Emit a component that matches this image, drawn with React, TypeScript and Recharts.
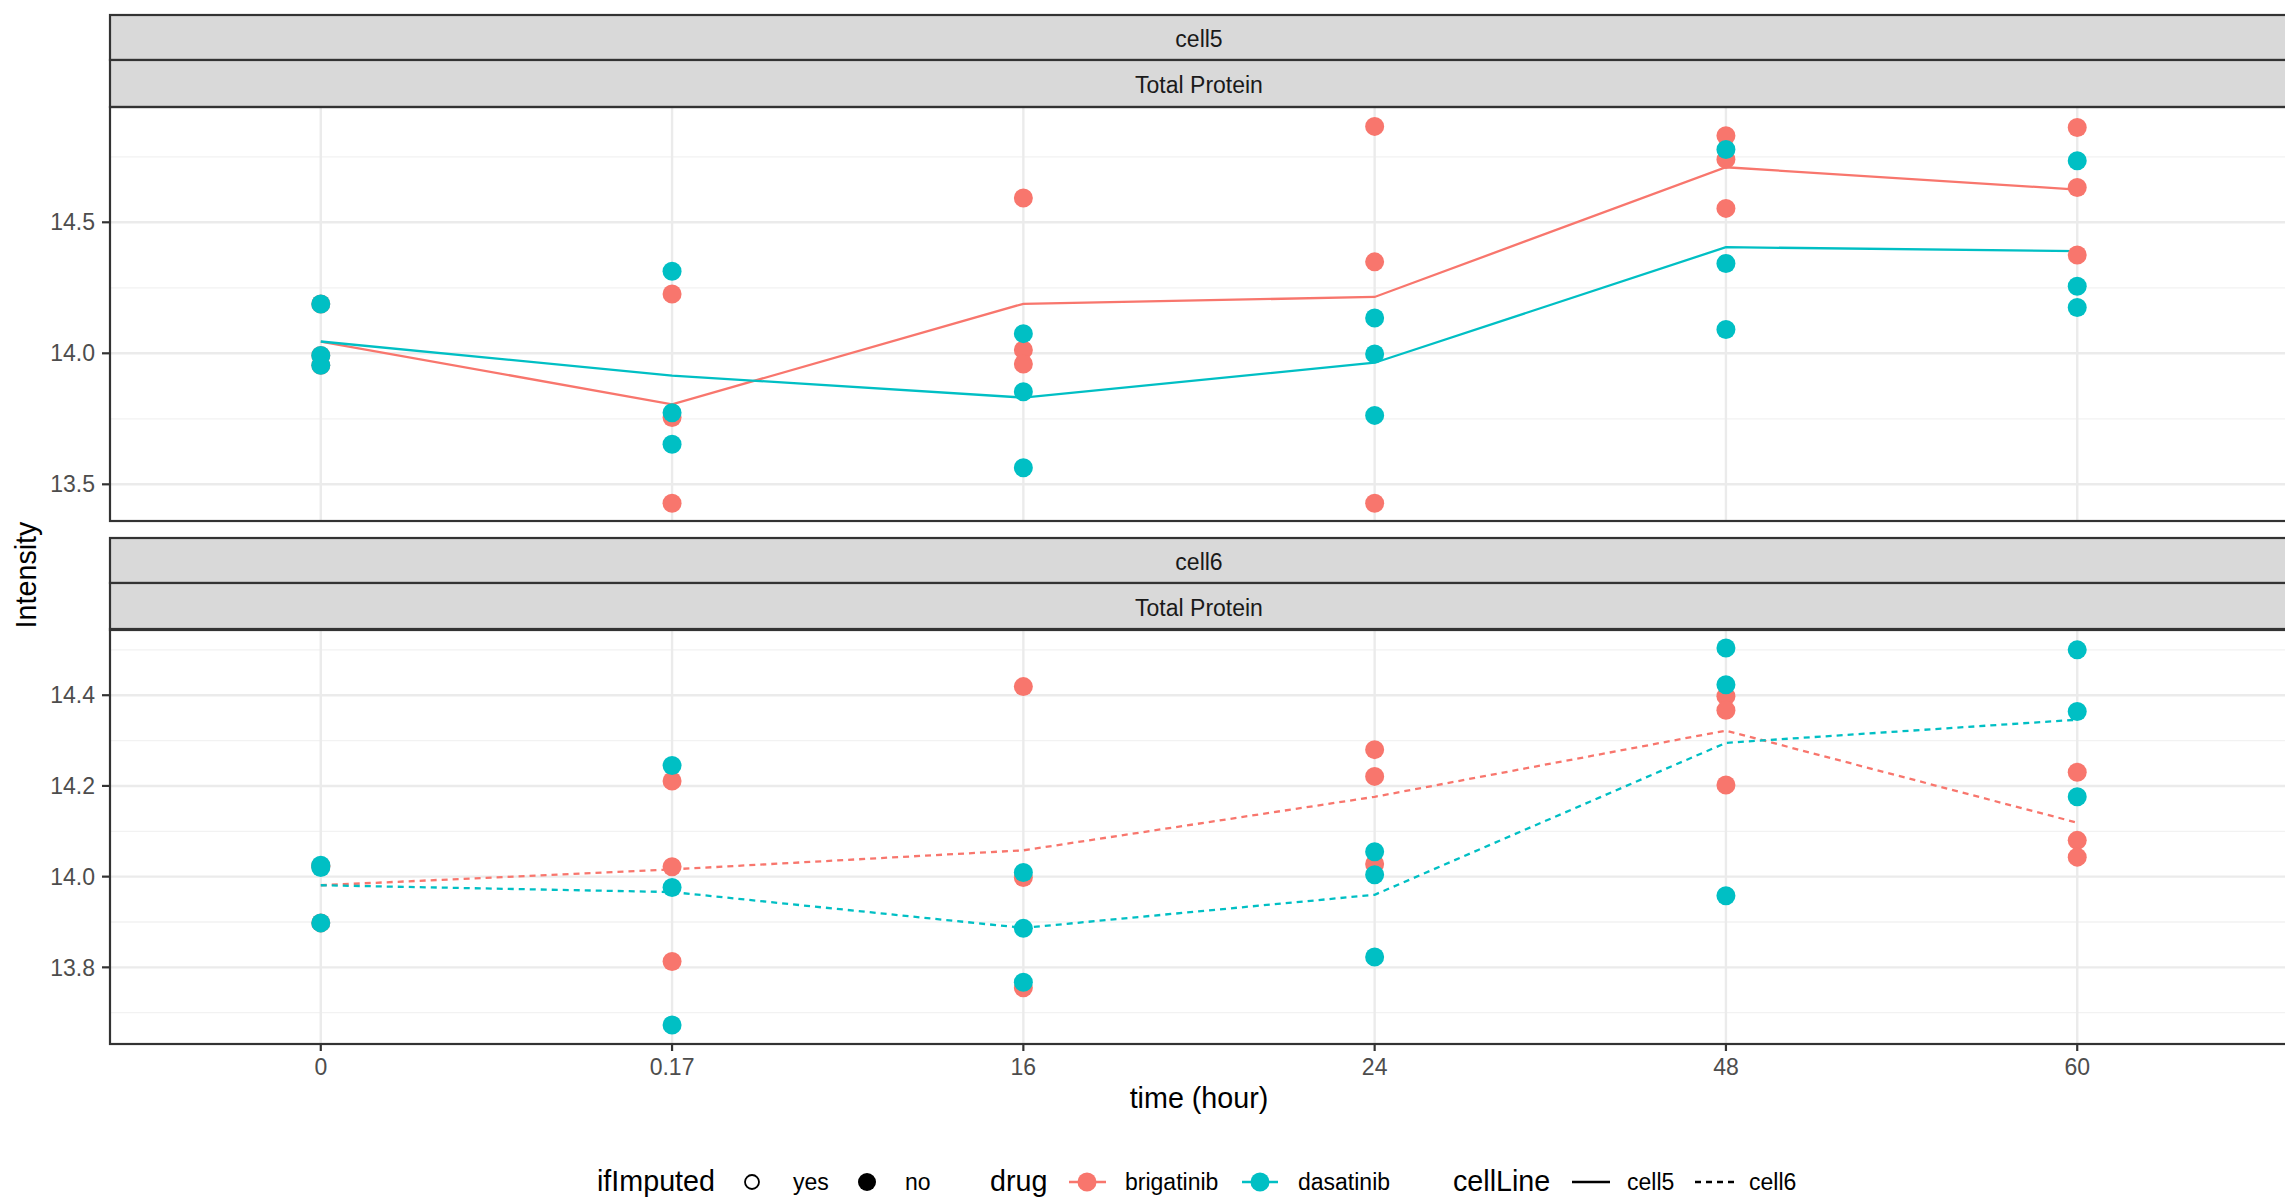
import React from 'react';
import { ComposedChart, Scatter, Line, XAxis, YAxis, CartesianGrid } from 'recharts';

const FONT = '"Liberation Sans", Arial, Helvetica, sans-serif';
const RED = '#F8766D';
const TEAL = '#00BFC4';

const timeLabels = ['0', '0.17', '16', '24', '48', '60'];
const timeIndex = [0, 1, 2, 3, 4, 5];

// cell5, three replicates per time point
const cell5Brigatinib = [
  [14.188, 13.992, 13.954],
  [14.226, 13.755, 13.428],
  [14.593, 14.013, 13.959],
  [14.866, 14.349, 13.428],
  [14.83, 14.74, 14.553],
  [14.862, 14.633, 14.375],
];
const cell5Dasatinib = [
  [14.188, 13.992, 13.954],
  [14.313, 13.773, 13.653],
  [14.075, 13.853, 13.563],
  [14.135, 13.997, 13.763],
  [14.778, 14.343, 14.091],
  [14.735, 14.256, 14.175],
];
const cell5BrigatinibLine = [14.045, 13.805, 14.189, 14.215, 14.71, 14.625];
const cell5DasatinibLine = [14.045, 13.915, 13.831, 13.964, 14.405, 14.39];

// cell6
const cell6Brigatinib = [
  [14.023, 14.023, 13.898],
  [14.211, 14.022, 13.813],
  [14.419, 13.998, 13.755],
  [14.28, 14.221, 14.028],
  [14.398, 14.367, 14.202],
  [14.23, 14.08, 14.043],
];
const cell6Dasatinib = [
  [14.025, 14.02, 13.898],
  [14.245, 13.976, 13.673],
  [14.009, 13.886, 13.767],
  [14.055, 14.004, 13.823],
  [14.504, 14.423, 13.958],
  [14.5, 14.364, 14.176],
];
const cell6BrigatinibLine = [13.981, 14.016, 14.058, 14.176, 14.322, 14.119];
const cell6DasatinibLine = [13.981, 13.966, 13.887, 13.96, 14.295, 14.346];

const cell5Ticks = [13.5, 14.0, 14.5];
const cell5Minor = [13.75, 14.25, 14.75];
const cell6Ticks = [13.8, 14.0, 14.2, 14.4];
const cell6Minor = [13.7, 13.9, 14.1, 14.3, 14.5];

const toPoints = (vals: number[][]) => vals.flatMap((arr, i) => arr.map((y) => ({ x: i, y })));
const toLine = (vals: number[]) => vals.map((y, i) => ({ x: i, y }));

const dot = (color: string) => (p: any) => <circle cx={p.cx} cy={p.cy} r={9.5} fill={color} />;

interface PanelProps {
  domain: [number, number];
  ticks: number[];
  minor: number[];
  brig: number[][];
  dasa: number[][];
  brigLine: number[];
  dasaLine: number[];
  dash?: string;
  height: number;
  showX: boolean;
}

const Panel: React.FC<PanelProps> = ({ domain, ticks, minor, brig, dasa, brigLine, dasaLine, dash, height, showX }) => (
  <ComposedChart width={2288} height={height + (showX ? 60 : 0)} margin={{ top: 0, right: 0, bottom: 0, left: 0 }}>
    <CartesianGrid stroke="#F2F2F2" strokeWidth={1.3} horizontalValues={minor} vertical={false} />
    <CartesianGrid stroke="#EBEBEB" strokeWidth={2.4} horizontalValues={ticks} verticalValues={timeIndex} />
    <XAxis
      type="number"
      dataKey="x"
      domain={[-0.6, 5.6]}
      ticks={timeIndex}
      tickFormatter={(v: number) => timeLabels[v]}
      hide={!showX}
      height={60}
      axisLine={false}
      tickSize={7}
      tickMargin={8}
      tickLine={{ stroke: '#333333', strokeWidth: 2.2 }}
      tick={{ fill: '#4D4D4D', fontSize: 23, fontFamily: FONT }}
      allowDataOverflow
    />
    <YAxis
      type="number"
      dataKey="y"
      domain={domain}
      ticks={ticks}
      tickFormatter={(v: number) => v.toFixed(1)}
      width={110}
      axisLine={false}
      tickSize={8}
      tickMargin={7}
      tickLine={{ stroke: '#333333', strokeWidth: 2.2 }}
      tick={{ fill: '#4D4D4D', fontSize: 23, fontFamily: FONT }}
      allowDataOverflow
    />
    <Scatter data={toPoints(brig)} fill={RED} shape={dot(RED)} isAnimationActive={false} />
    <Scatter data={toPoints(dasa)} fill={TEAL} shape={dot(TEAL)} isAnimationActive={false} />
    <Line data={toLine(brigLine)} dataKey="y" type="linear" stroke={RED} strokeWidth={2.3} strokeDasharray={dash} dot={false} activeDot={false} isAnimationActive={false} />
    <Line data={toLine(dasaLine)} dataKey="y" type="linear" stroke={TEAL} strokeWidth={2.3} strokeDasharray={dash} dot={false} activeDot={false} isAnimationActive={false} />
  </ComposedChart>
);

const Strips: React.FC<{ top: number; label: string }> = ({ top, label }) => (
  <g>
    <rect x={110} y={top} width={2200} height={45} fill="#D9D9D9" stroke="#333333" strokeWidth={2.2} />
    <rect x={110} y={top + 45} width={2200} height={47} fill="#D9D9D9" stroke="#333333" strokeWidth={2.2} />
    <text x={1199} y={top + 31.7} textAnchor="middle" fontSize={23} fill="#1A1A1A" fontFamily={FONT}>{label}</text>
    <text x={1199} y={top + 77.7} textAnchor="middle" fontSize={23} fill="#1A1A1A" fontFamily={FONT}>Total Protein</text>
  </g>
);

const App: React.FC = () => (
  <div style={{ position: 'absolute', left: 0, top: 0, width: 2285, height: 1204, overflow: 'hidden', background: '#fff' }}>
    <div style={{ position: 'absolute', left: 0, top: 107 }}>
      <Panel domain={[13.36, 14.94]} ticks={cell5Ticks} minor={cell5Minor} brig={cell5Brigatinib} dasa={cell5Dasatinib}
        brigLine={cell5BrigatinibLine} dasaLine={cell5DasatinibLine} height={414} showX={false} />
    </div>
    <div style={{ position: 'absolute', left: 0, top: 629 }}>
      <Panel domain={[13.631, 14.546]} ticks={cell6Ticks} minor={cell6Minor} brig={cell6Brigatinib} dasa={cell6Dasatinib}
        brigLine={cell6BrigatinibLine} dasaLine={cell6DasatinibLine} dash="6 5" height={415} showX />
    </div>
    <svg width={2285} height={1204} style={{ position: 'absolute', left: 0, top: 0, pointerEvents: 'none' }} fontFamily={FONT}>
      <Strips top={15} label="cell5" />
      <Strips top={538} label="cell6" />
      <rect x={110} y={107} width={2200} height={414} fill="none" stroke="#333333" strokeWidth={2.2} />
      <rect x={110} y={629} width={2200} height={415} fill="none" stroke="#333333" strokeWidth={2.2} />
      <text transform="translate(36,575) rotate(-90)" textAnchor="middle" fontSize={28.7} fill="#000">Intensity</text>
      <text x={1199} y={1108} textAnchor="middle" fontSize={28.7} fill="#000">time (hour)</text>
      {/* legend */}
      <g fill="#000">
        <text x={597} y={1191} fontSize={28.7}>ifImputed</text>
        <circle cx={752} cy={1182} r={7} fill="none" stroke="#000" strokeWidth={1.8} />
        <text x={793} y={1190} fontSize={23}>yes</text>
        <circle cx={867} cy={1182} r={9} fill="#000" />
        <text x={905} y={1190} fontSize={23}>no</text>

        <text x={990} y={1191} fontSize={28.7}>drug</text>
        <line x1={1069} x2={1106} y1={1182} y2={1182} stroke={RED} strokeWidth={2.4} />
        <circle cx={1087} cy={1182} r={9.5} fill={RED} />
        <text x={1125} y={1190} fontSize={23}>brigatinib</text>
        <line x1={1242} x2={1278} y1={1182} y2={1182} stroke={TEAL} strokeWidth={2.4} />
        <circle cx={1260} cy={1182} r={9.5} fill={TEAL} />
        <text x={1298} y={1190} fontSize={23}>dasatinib</text>

        <text x={1453} y={1191} fontSize={28.7}>cellLine</text>
        <line x1={1572} x2={1610} y1={1182} y2={1182} stroke="#000" strokeWidth={2.4} />
        <text x={1627} y={1190} fontSize={23}>cell5</text>
        <line x1={1695} x2={1734} y1={1182} y2={1182} stroke="#000" strokeWidth={2.4} strokeDasharray="6 5" />
        <text x={1749} y={1190} fontSize={23}>cell6</text>
      </g>
    </svg>
  </div>
);

export default App;
